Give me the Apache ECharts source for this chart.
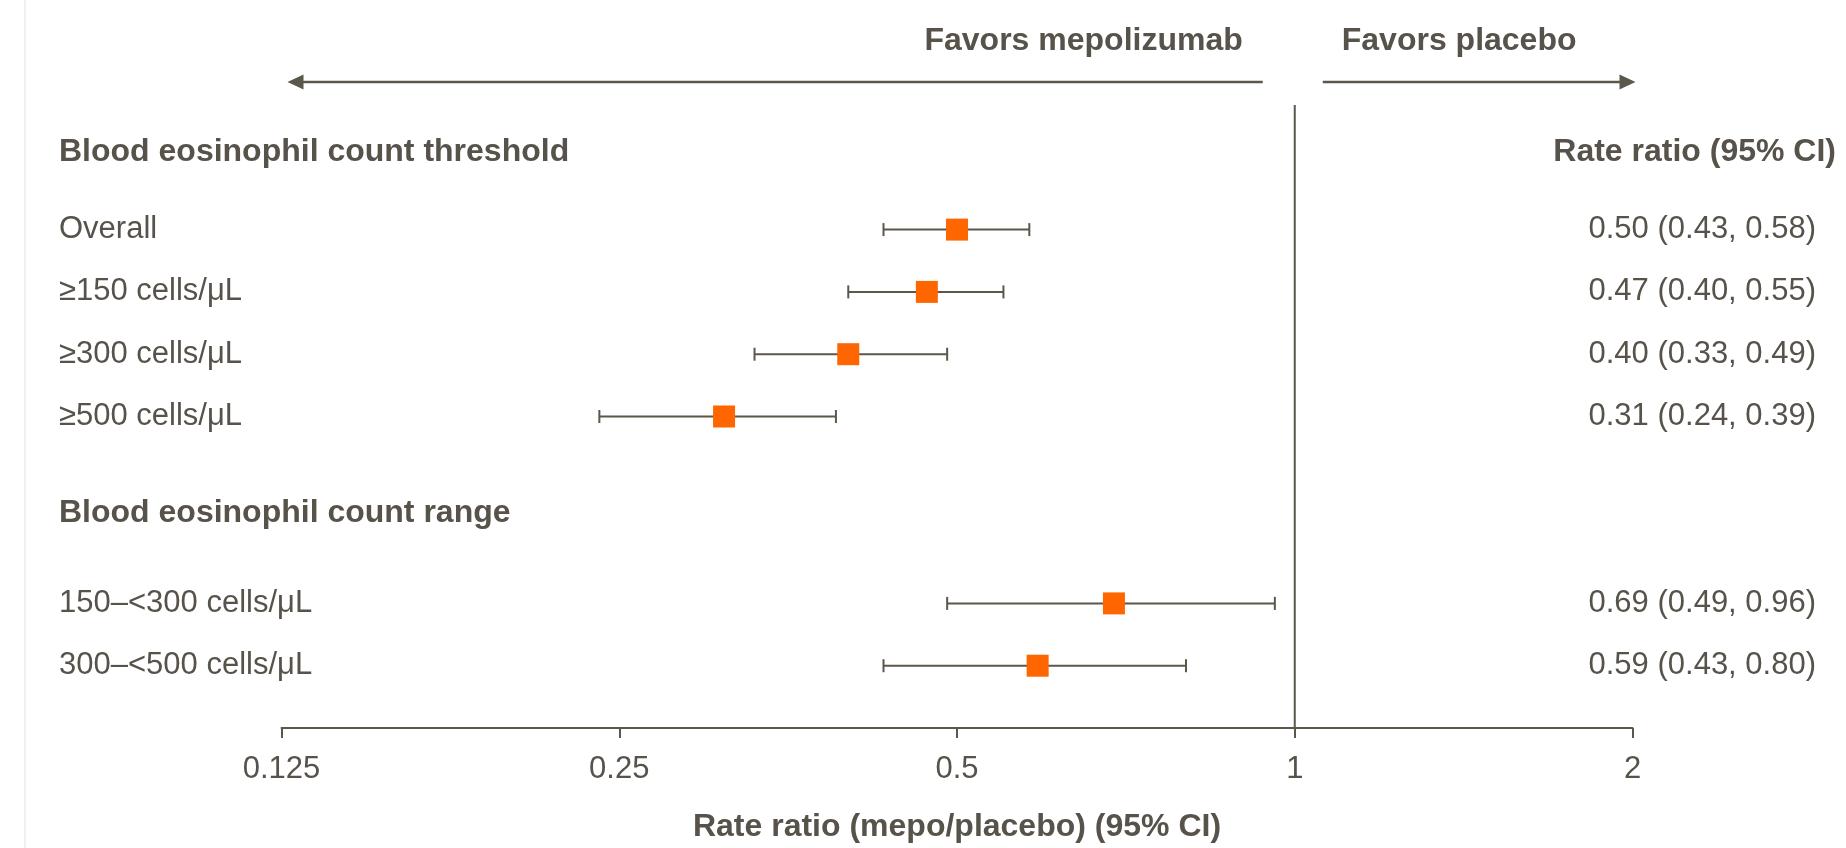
<!DOCTYPE html>
<html>
<head>
<meta charset="utf-8">
<title>Rate ratio forest plot</title>
<script src="https://cdn.jsdelivr.net/npm/echarts@6/dist/echarts.min.js"></script>
<style>
  html, body { margin: 0; padding: 0; background: #fff; }
  #chart { width: 1846px; height: 848px; }
</style>
</head>
<body>
<div id="chart"></div>
<script>
  // subgroup rows, top to bottom
  var thresholdRows = ['Overall', '≥150 cells/μL', '≥300 cells/μL', '≥500 cells/μL']
  var rangeRows = ['150–<300 cells/μL', '300–<500 cells/μL']
  var rateRatio = [0.50, 0.47, 0.40, 0.31, 0.69, 0.59]
  var ciLower = [0.43, 0.40, 0.33, 0.24, 0.49, 0.43]
  var ciUpper = [0.58, 0.55, 0.49, 0.39, 0.96, 0.80]
  var ciLabels = ['0.50 (0.43, 0.58)', '0.47 (0.40, 0.55)', '0.40 (0.33, 0.49)',
    '0.31 (0.24, 0.39)', '0.69 (0.49, 0.96)', '0.59 (0.43, 0.80)']
  var xTicks = [0.125, 0.25, 0.5, 1, 2]

  var textColor = '#57524a'
  var lineColor = '#5c574b'
  var markColor = '#ff6600'
  var font = 'Liberation Sans, Arial, sans-serif'

  var rows = thresholdRows.concat(rangeRows)
  // y slots: two blank slots above, a gap for the second heading, one below
  var slots = ['', ''].concat(thresholdRows, ['', ''], rangeRows, [''])

  var ciByRow = {}
  rows.forEach(function (r, i) { ciByRow[r] = ciLabels[i] })

  var seriesData = rows.map(function (r, i) {
    return [rateRatio[i], ciLower[i], ciUpper[i], slots.indexOf(r)]
  })

  function renderItem(params, api) {
    var cat = api.value(3)
    var mid = api.coord([api.value(0), cat])
    var lo = api.coord([api.value(1), cat])
    var hi = api.coord([api.value(2), cat])
    var lineStyle = { stroke: lineColor, lineWidth: 2 }
    var cap = 6.5
    var half = 11
    return {
      type: 'group',
      children: [
        { type: 'line', shape: { x1: lo[0], y1: lo[1], x2: hi[0], y2: hi[1] }, style: lineStyle },
        { type: 'line', shape: { x1: lo[0], y1: lo[1] - cap, x2: lo[0], y2: lo[1] + cap }, style: lineStyle },
        { type: 'line', shape: { x1: hi[0], y1: hi[1] - cap, x2: hi[0], y2: hi[1] + cap }, style: lineStyle },
        { type: 'rect', shape: { x: mid[0] - half, y: mid[1] - half, width: half * 2, height: half * 2 }, style: { fill: markColor } }
      ]
    }
  }

  var chart = echarts.init(document.getElementById('chart'))

  function headText(text, x, y, align) {
    return {
      type: 'text', x: x, y: y, silent: true,
      style: {
        text: text, fill: textColor, font: 'bold 32px ' + font,
        align: align || 'left', verticalAlign: 'middle'
      }
    }
  }

  chart.setOption({
    backgroundColor: '#fff',
    animation: false,
    textStyle: { fontFamily: font },
    grid: { left: 281.5, right: 213.5, top: 105, bottom: 116.5 },
    xAxis: {
      type: 'log',
      logBase: 2,
      min: xTicks[0],
      max: xTicks[xTicks.length - 1],
      splitNumber: 4,
      axisLine: { show: true, lineStyle: { color: lineColor, width: 2 } },
      axisTick: { show: true, length: 10, lineStyle: { color: lineColor, width: 2 } },
      splitLine: { show: false },
      axisLabel: {
        color: textColor, fontSize: 31, margin: 26,
        formatter: function (v) { return String(+(+v).toPrecision(6)) }
      },
      name: 'Rate ratio (mepo/placebo) (95% CI)',
      nameLocation: 'middle',
      nameGap: 83,
      nameTextStyle: { color: textColor, fontSize: 32, fontWeight: 'bold' }
    },
    yAxis: [{
      type: 'category',
      inverse: true,
      boundaryGap: false,
      data: slots,
      axisLine: { show: false },
      axisTick: { show: false },
      splitLine: { show: false },
      axisLabel: { interval: 0, align: 'left', margin: 222.5, color: textColor, fontSize: 31 }
    }, {
      type: 'category',
      position: 'right',
      inverse: true,
      boundaryGap: false,
      data: slots,
      axisLine: { show: false },
      axisTick: { show: false },
      splitLine: { show: false },
      axisLabel: {
        interval: 0, align: 'right', margin: 183.5, color: textColor, fontSize: 31,
        formatter: function (v) { return ciByRow[v] || '' }
      }
    }],
    series: [{
      type: 'custom',
      renderItem: renderItem,
      encode: { x: [0, 1, 2], y: 3 },
      data: seriesData
    }]
  })

  // reference line, arrows and headings, placed off the x scale
  var xLeft = chart.convertToPixel({ xAxisIndex: 0 }, xTicks[0])
  var xOne = chart.convertToPixel({ xAxisIndex: 0 }, 1)
  var xRight = chart.convertToPixel({ xAxisIndex: 0 }, xTicks[xTicks.length - 1])
  var yTop = chart.convertToPixel({ yAxisIndex: 0 }, 0)
  var yBottom = chart.convertToPixel({ yAxisIndex: 0 }, slots.length - 1)
  var arrowY = 82
  var arrowStyle = { stroke: lineColor, lineWidth: 2.5 }
  var leftTip = xLeft + 6
  var rightTip = xRight + 3

  chart.setOption({
    graphic: [
      { type: 'line', silent: true, shape: { x1: 25, y1: 0, x2: 25, y2: 848 }, style: { stroke: '#f0f0f0', lineWidth: 2 } },
      { type: 'line', silent: true, shape: { x1: xOne, y1: yTop, x2: xOne, y2: yBottom }, style: { stroke: lineColor, lineWidth: 2 } },
      { type: 'line', silent: true, shape: { x1: xOne - 32, y1: arrowY, x2: leftTip + 10, y2: arrowY }, style: arrowStyle },
      { type: 'polygon', silent: true, shape: { points: [[leftTip, arrowY], [leftTip + 16, arrowY - 7.5], [leftTip + 16, arrowY + 7.5]] }, style: { fill: lineColor } },
      { type: 'line', silent: true, shape: { x1: xOne + 28, y1: arrowY, x2: rightTip - 10, y2: arrowY }, style: arrowStyle },
      { type: 'polygon', silent: true, shape: { points: [[rightTip, arrowY], [rightTip - 16, arrowY - 7.5], [rightTip - 16, arrowY + 7.5]] }, style: { fill: lineColor } },
      headText('Favors mepolizumab', xOne - 52, 41, 'right'),
      headText('Favors placebo', xOne + 47, 41, 'left'),
      headText('Blood eosinophil count threshold', 59, 152),
      headText('Blood eosinophil count range', 59, 513),
      headText('Rate ratio (95% CI)', 1836, 152, 'right')
    ]
  })
</script>
</body>
</html>
